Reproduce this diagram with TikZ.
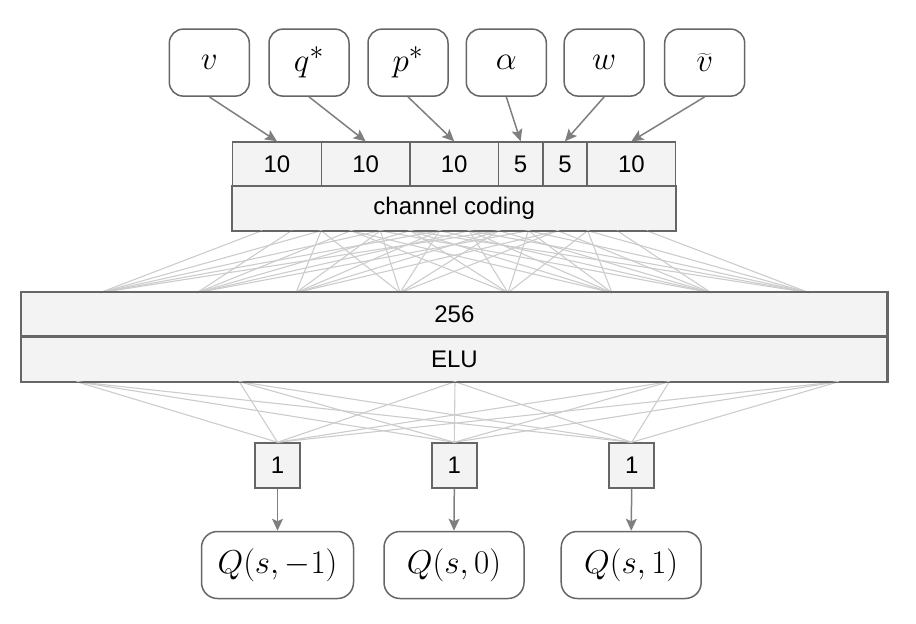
\documentclass[tikz,border=0pt]{standalone}
\usepackage{graphicx}
\usepackage{fontspec}
\newfontfamily\arialfont{Liberation Sans}
\usetikzlibrary{arrows.meta}
\definecolor{bordergray}{HTML}{666666}
\definecolor{cellfill}{HTML}{F3F3F3}
\definecolor{linegray}{HTML}{CCCCCC}
\definecolor{arrowgray}{HTML}{7F7F7F}
\newcommand{\bigmath}[1]{\scalebox{1.33}{\Huge $#1$}}
\begin{document}
\begin{tikzpicture}[x=1pt,y=-1pt,
  rbox/.style={draw=bordergray, line width=1.5pt, rounded corners=14pt, fill=white,
    minimum width=80pt, minimum height=67pt, inner sep=0pt},
  qbox/.style={rbox, rounded corners=16pt, minimum width=140pt},
  cell/.style={draw=bordergray, line width=1.5pt, fill=cellfill, minimum height=44.3pt,
    inner sep=0pt, font=\arialfont\fontsize{24}{28}\selectfont},
  conn/.style={draw=linegray, line width=1.1pt},
  arr/.style={draw=arrowgray, line width=1.5pt, -{Stealth[length=12pt,width=11pt,inset=2.5pt]}}
]
\useasboundingbox (0,0) rectangle (916,624);

% input nodes
\node[rbox] (v)  at (209.3,62.6) {\bigmath{v}};
\node[rbox] (q)  at (309,62.6)   {\bigmath{q^*}};
\node[rbox] (p)  at (408,62.6)   {\bigmath{p^*}};
\node[rbox] (al) at (506.3,62.6) {\bigmath{\alpha}};
\node[rbox] (w)  at (604.2,62.6) {\bigmath{w}};
\node[rbox] (vt) at (704.7,62.6) {\bigmath{\widetilde{v}}};

% channel coding
\node[cell, minimum width=88.6pt] (c1) at (277.0,164.2) {10};
\node[cell, minimum width=88.6pt] (c2) at (365.6,164.2) {10};
\node[cell, minimum width=88.6pt] (c3) at (454.2,164.2) {10};
\node[cell, minimum width=44.3pt] (c4) at (520.65,164.2) {5};
\node[cell, minimum width=44.3pt] (c5) at (564.95,164.2) {5};
\node[cell, minimum width=88.6pt] (c6) at (631.4,164.2) {10};
\node[cell, minimum width=443pt] (cc) at (454.2,208.5) {channel coding};

% hidden layer
\node[cell, minimum width=865.3pt, minimum height=44pt] (h) at (454.35,314.7) {256};
\node[cell, minimum width=865.3pt, minimum height=45pt] (elu) at (454.35,359.2) {ELU};

% outputs
\node[cell, minimum width=45pt, minimum height=45pt] (o1) at (277.5,465.5) {1};
\node[cell, minimum width=45pt, minimum height=45pt] (o2) at (454.3,465.5) {1};
\node[cell, minimum width=45pt, minimum height=45pt] (o3) at (631.7,465.5) {1};

\node[qbox, minimum width=152pt] (Q1) at (277.5,565) {\bigmath{Q(s,-1)}};
\node[qbox] (Q2) at (454,565)   {\bigmath{Q(s,0)}};
\node[qbox] (Q3) at (631.2,565) {\bigmath{Q(s,1)}};

% fan coordinates: 14 points on the channel coding bottom edge
\foreach \i in {1,...,14}
  \coordinate (t\i) at ({262+(\i-1)*29.6},230.7);
% 8 points on the top edge of the hidden layer
\foreach \i/\x in {1/100,2/197,3/296,4/400,5/508,6/612,7/711,8/809}
  \coordinate (b\i) at (\x,292.7);
\foreach \i/\x in {1/76.7,2/239.3,3/455,4/669.3,5/838.7}
  \coordinate (e\i) at (\x,381.7);

\foreach \b/\s in {1/1,2/2,3/3,4/3,5/4,6/4,7/5,8/6}
  \foreach \k in {0,2,4,6,8}{
    \pgfmathtruncatemacro{\tt}{\s+\k}
    \draw[conn] (t\tt) -- (b\b);
  }
\foreach \a in {1,...,5}
  \foreach \o in {o1,o2,o3}
    \draw[conn] (e\a) -- (\o.north);

% redraw box borders on top of the fan lines
\draw[bordergray, line width=1.5pt] (cc.south west) rectangle (cc.north east);
\draw[bordergray, line width=1.5pt] (h.south west) rectangle (h.north east);
\draw[bordergray, line width=1.5pt] (elu.south west) rectangle (elu.north east);

% arrows
\draw[arr] (v.south)  -- (c1.north);
\draw[arr] (q.south)  -- (c2.north);
\draw[arr] (p.south)  -- (c3.north);
\draw[arr] (al.south) -- (c4.north);
\draw[arr] (w.south)  -- (c5.north);
\draw[arr] (vt.south) -- (c6.north);

\draw[arr] (o1.south) -- (Q1.north);
\draw[arr] (o2.south) -- (Q2.north);
\draw[arr] (o3.south) -- (Q3.north);
\end{tikzpicture}
\end{document}
